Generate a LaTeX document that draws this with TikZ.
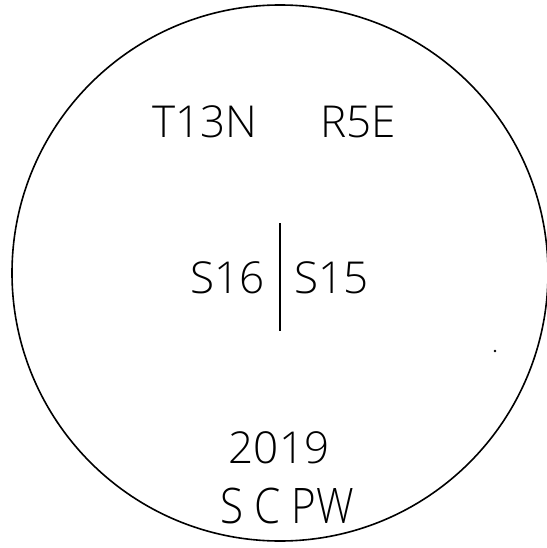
\documentclass[tikz,border=0pt]{standalone}
\usepackage{fontspec}
\setmainfont{Open Sans Light}
\tikzset{
  captext/.style={anchor=base, inner sep=0pt, font=\fontsize{44}{48}\selectfont},
  bigtext/.style={captext, xscale=0.86, font=\fontsize{49}{52}\selectfont}
}
\begin{document}
\begin{tikzpicture}[x=1pt, y=-1pt]
  \useasboundingbox (0,0) rectangle (546,548);

  % outline of the cap
  \draw[line width=1.6pt] (280,273) circle (268);

  % township / range
  \node[captext] (twp) at (205,138) {T13N};
  \node[captext] (rng) at (358,138) {R5E};

  % section line
  \coordinate (divtop) at (280,223);
  \coordinate (divbot) at (280,331);
  \draw[line width=1.2pt] (divtop) -- (divbot);
  \node[captext, anchor=base east] (secw) at (265,293) {S16};
  \node[captext, anchor=base west] (sece) at (294,293) {S15};

  % year and agency
  \node[captext] (year) at (279,463) {2019};
  \node[bigtext] (agency) at (287,523) {S C PW};

  % speck
  \fill (495,351) circle (1.3);
\end{tikzpicture}
\end{document}
